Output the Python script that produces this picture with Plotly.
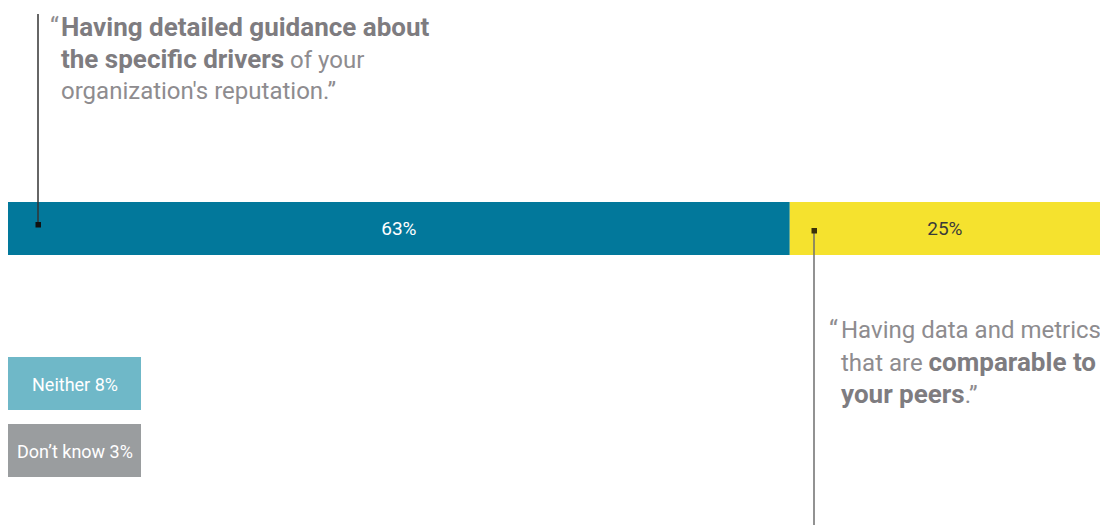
import plotly.graph_objects as go

# Survey shares (percent)
bar_labels = ["Detailed guidance on drivers", "Comparable data and metrics"]
bar_values = [63, 25]
bar_colors = ["#02789B", "#F5E22E"]
bar_text_colors = ["#FFFFFF", "#3A3A3A"]

other_labels = ["Neither", "Don\u2019t know"]
other_values = [8, 3]
other_colors = ["#6FB8C8", "#9A9D9F"]

W, H = 1100, 525
FONT = "Roboto, Liberation Sans, Arial, sans-serif"
GRAY = "#8E8C8F"
GRAY_B = "#7E7C80"

total = sum(bar_values)
fig = go.Figure()

# Stacked horizontal bar for the two main answers
base = 0
for lab, v, c, tc in zip(bar_labels, bar_values, bar_colors, bar_text_colors):
    fig.add_trace(go.Bar(
        x=[v], y=[228.5], base=[base], orientation="h", width=53,
        marker=dict(color=c, line=dict(width=0)),
        text=[f"{v}%"], textposition="inside", insidetextanchor="middle",
        textfont=dict(family=FONT, size=19, color=tc),
        name=lab, hoverinfo="skip",
    ))
    base += v

px_per_unit = (W - 8) / total

def to_x(px):
    return (px - 8) / px_per_unit

shapes = []
annotations = []

# Boxes for the remaining answers
box_tops = [357, 424]
for lab, v, c, top in zip(other_labels, other_values, other_colors, box_tops):
    shapes.append(dict(type="rect", xref="x", yref="y", x0=to_x(8), x1=to_x(141),
                       y0=top, y1=top + 53, fillcolor=c, line=dict(width=0), layer="above"))
    annotations.append(dict(x=to_x(74.5), y=top + 27, xref="x", yref="y",
                            text=f"{lab} {v}%", showarrow=False,
                            font=dict(family=FONT, size=18, color="#FFFFFF"),
                            xanchor="center", yanchor="middle"))

# Callout leader lines with square markers
shapes.append(dict(type="line", xref="x", yref="y", x0=to_x(38), x1=to_x(38), y0=14, y1=225,
                   line=dict(color="#333333", width=1.5)))
shapes.append(dict(type="rect", xref="x", yref="y", x0=to_x(35.5), x1=to_x(41), y0=222, y1=227.5,
                   fillcolor="#111111", line=dict(width=0)))
shapes.append(dict(type="line", xref="x", yref="y", x0=to_x(814), x1=to_x(814), y0=230, y1=525,
                   line=dict(color="#6E6E6E", width=1.5)))
shapes.append(dict(type="rect", xref="x", yref="y", x0=to_x(811.5), x1=to_x(817), y0=228, y1=233.5,
                   fillcolor="#3A3008", line=dict(width=0)))

# Regular words are set a touch smaller than the bold emphasis
B = lambda s: f"<b><span style='color:{GRAY_B};font-size:26px'>{s}</span></b>"

def quote(x_mark, x_text, ys, lines):
    annotations.append(dict(x=to_x(x_mark), y=ys[0], xref="x", yref="y", text="\u201c",
                            showarrow=False, xanchor="left", yanchor="middle",
                            font=dict(family=FONT, size=25, color=GRAY)))
    for y, t in zip(ys, lines):
        annotations.append(dict(x=to_x(x_text), y=y, xref="x", yref="y", text=t,
                                showarrow=False, xanchor="left", yanchor="middle",
                                font=dict(family=FONT, size=24, color=GRAY)))

quote(48, 59, [27, 59, 91], [
    B("Having detailed guidance about"),
    B("the specific drivers") + " of your",
    "organization's reputation.\u201d",
])
quote(827, 839, [330, 362, 394], [
    "Having data and metrics",
    "that are " + B("comparable to"),
    B("your peers") + ".\u201d",
])

fig.update_layout(
    width=W, height=H,
    margin=dict(l=8, r=0, t=0, b=0),
    paper_bgcolor="white", plot_bgcolor="white",
    barmode="overlay", showlegend=False,
    xaxis=dict(range=[0, total], visible=False, fixedrange=True),
    yaxis=dict(range=[H, 0], visible=False, fixedrange=True),
    shapes=shapes, annotations=annotations,
    uniformtext=dict(mode=False),
)

fig.write_html("out.html", config={"displayModeBar": False})
